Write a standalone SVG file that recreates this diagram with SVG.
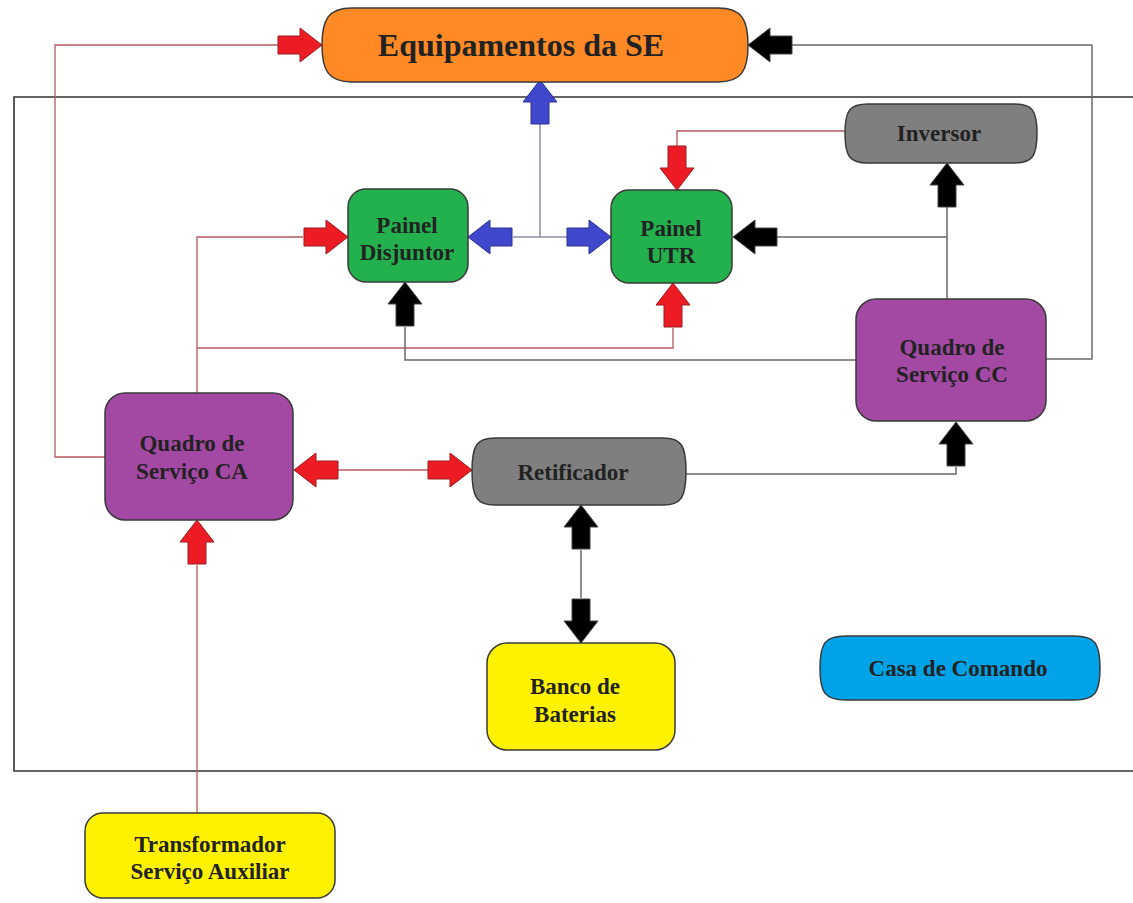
<svg xmlns="http://www.w3.org/2000/svg" width="1133" height="903" viewBox="0 0 1133 903">
<style>
.node{stroke:#3a3a3a;stroke-width:1.5}
.lbl{font-family:"Liberation Serif","Times New Roman",serif;font-weight:bold;font-size:23px;fill:#222;text-anchor:middle}
.red{fill:none;stroke:#b4595c;stroke-width:1.3}
.dark{fill:none;stroke:#6a6a6a;stroke-width:1.5}
.blue{fill:none;stroke:#8e8ea8;stroke-width:1.5}
.ar-r{fill:#ED1C24;stroke:#9a1c20;stroke-width:1}
.ar-k{fill:#000;stroke:#444;stroke-width:1}
.ar-b{fill:#3F48CC;stroke:#2c328f;stroke-width:1}
</style>
<defs>
<polygon id="arr" points="-44,-9 -22,-9 -22,-17 0,0 -22,17 -22,9 -44,9"/>
</defs>
<rect width="1133" height="903" fill="#fff"/>
<g id="frame">
<path d="M1140,97 H14 V771 H1140" fill="none" stroke="#333" stroke-width="1.6"/>
</g>
<g id="connectors">
<path class="red" d="M278,45 H55 V457 H105"/>
<path class="red" d="M197,393 V237 H303"/>
<path class="red" d="M197,348 H673 V328"/>
<path class="red" d="M338,470 H428"/>
<path class="red" d="M197,813 V565"/>
<path class="red" d="M845,131 H677 V146"/>
<path class="blue" d="M540,123 V237 M513,237 H567"/>
<path class="dark" d="M792,45 H1092 V359 H1046"/>
<path class="dark" d="M405,327 V360 H856"/>
<path class="dark" d="M777,237 H947 M947,207 V299"/>
<path class="dark" d="M686,474 H956 V467"/>
<path class="dark" d="M581,550 V598"/>
<use href="#arr" class="ar-r" transform="translate(322,45)"/>
<use href="#arr" class="ar-k" transform="translate(748,45) rotate(180)"/>
<use href="#arr" class="ar-b" transform="translate(540,80) rotate(-90)"/>
<use href="#arr" class="ar-r" transform="translate(348,237)"/>
<use href="#arr" class="ar-b" transform="translate(468,237) rotate(180)"/>
<use href="#arr" class="ar-b" transform="translate(611,237)"/>
<use href="#arr" class="ar-r" transform="translate(677,190) rotate(90)"/>
<use href="#arr" class="ar-k" transform="translate(733,237) rotate(180)"/>
<use href="#arr" class="ar-k" transform="translate(947,163) rotate(-90)"/>
<use href="#arr" class="ar-k" transform="translate(405,282) rotate(-90)"/>
<use href="#arr" class="ar-r" transform="translate(673,283) rotate(-90)"/>
<use href="#arr" class="ar-k" transform="translate(956,422) rotate(-90)"/>
<use href="#arr" class="ar-r" transform="translate(294,470) rotate(180)"/>
<use href="#arr" class="ar-r" transform="translate(472,470)"/>
<use href="#arr" class="ar-k" transform="translate(581,505) rotate(-90)"/>
<use href="#arr" class="ar-k" transform="translate(581,643) rotate(90)"/>
<use href="#arr" class="ar-r" transform="translate(197,520) rotate(-90)"/>
</g>
<g id="equipamentos">
<path class="node" fill="#FF8A25" d="M352,8 H718 C742,8 748,20 748,45 C748,70 742,82 718,82 H352 C328,82 322,70 322,45 C322,20 328,8 352,8 Z"/>
<text class="lbl" x="521" y="56" style="font-size:32px">Equipamentos da SE</text>
</g>
<g id="inversor">
<path class="node" fill="#7F7F7F" d="M868,104 H1014 C1032,104 1037,110 1037,133 C1037,157 1032,163 1014,163 H868 C850,163 845,157 845,133 C845,110 850,104 868,104 Z"/>
<text class="lbl" x="939" y="141">Inversor</text>
</g>
<g id="painel-disjuntor">
<rect class="node" fill="#22B14C" x="348" y="189" width="120" height="93" rx="18"/>
<text class="lbl" x="407" y="233">Painel</text>
<text class="lbl" x="407" y="260">Disjuntor</text>
</g>
<g id="painel-utr">
<rect class="node" fill="#22B14C" x="611" y="190" width="121" height="93" rx="18"/>
<text class="lbl" x="671" y="236">Painel</text>
<text class="lbl" x="671" y="263">UTR</text>
</g>
<g id="quadro-cc">
<rect class="node" fill="#A349A4" x="856" y="299" width="190" height="122" rx="20"/>
<text class="lbl" x="952" y="355">Quadro de</text>
<text class="lbl" x="952" y="382">Serviço CC</text>
</g>
<g id="quadro-ca">
<rect class="node" fill="#A349A4" x="105" y="393" width="188" height="127" rx="20"/>
<text class="lbl" x="192" y="451">Quadro de</text>
<text class="lbl" x="192" y="479">Serviço CA</text>
</g>
<g id="retificador">
<path class="node" fill="#7F7F7F" d="M495,438 H663 C681,438 686,445 686,471 C686,498 681,505 663,505 H495 C477,505 472,498 472,471 C472,445 477,438 495,438 Z"/>
<text class="lbl" x="573" y="480">Retificador</text>
</g>
<g id="banco-baterias">
<rect class="node" fill="#FFF200" x="487" y="643" width="188" height="107" rx="20"/>
<text class="lbl" x="575" y="694">Banco de</text>
<text class="lbl" x="575" y="722">Baterias</text>
</g>
<g id="casa-comando">
<path class="node" fill="#00A2E8" d="M846,636 H1074 C1095,636 1100,643 1100,668 C1100,693 1095,700 1074,700 H846 C825,700 820,693 820,668 C820,643 825,636 846,636 Z"/>
<text class="lbl" x="958" y="676">Casa de Comando</text>
</g>
<g id="transformador">
<rect class="node" fill="#FFF200" x="85" y="813" width="250" height="85" rx="18"/>
<text class="lbl" x="210" y="852">Transformador</text>
<text class="lbl" x="210" y="879">Serviço Auxiliar</text>
</g>
</svg>
